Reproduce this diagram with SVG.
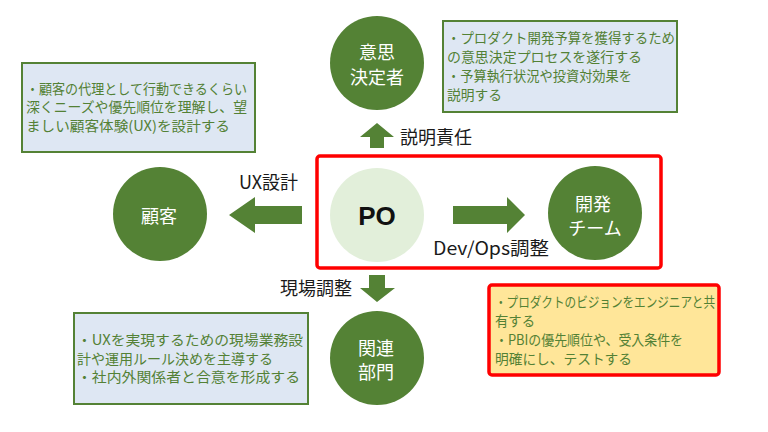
<svg xmlns="http://www.w3.org/2000/svg" width="768" height="432" viewBox="0 0 768 432">
<style>
.node{fill:#548235;}
.nt{fill:#ffffff;font-family:"Noto Sans CJK JP",sans-serif;font-size:18px;text-anchor:middle;}
.note{fill:#dee7f3;stroke:#548235;stroke-width:2;}
.hl{fill:#ffe699;stroke:#ff0000;stroke-width:3.5;}
.bt{fill:#538135;font-family:"Noto Sans CJK JP",sans-serif;font-size:14px;}
.arrow{fill:#548235;}
.lbl{fill:#1a1a1a;font-family:"Noto Sans CJK JP",sans-serif;font-size:18px;}
</style>
<rect width="768" height="432" fill="#ffffff"/>

<g id="po-group">
<rect x="317" y="156" width="344" height="112" rx="3" fill="none" stroke="#ff0000" stroke-width="3.5"/>
</g>

<g id="connectors">
<polygon class="arrow" points="377,123 394,137 384,137 384,148 370,148 370,137 360,137"/>
<polygon class="arrow" points="229,215 255,197 255,206 302,206 302,224 255,224 255,233"/>
<polygon class="arrow" points="525,215 507,197 507,206 453,206 453,224 507,224 507,233"/>
<polygon class="arrow" points="377,302 395,288 385,288 385,275 369,275 369,288 360,288"/>
<text class="lbl" x="400" y="144">説明責任</text>
<text class="lbl" x="298" y="189" text-anchor="end">UX設計</text>
<text class="lbl" x="433" y="255" font-size="19" textLength="116" lengthAdjust="spacingAndGlyphs">Dev/Ops調整</text>
<text class="lbl" x="352" y="295" text-anchor="end">現場調整</text>
</g>

<g id="node-po">
<circle cx="377" cy="215" r="47" fill="#e2efda"/>
<text x="377" y="225" fill="#111111" font-family="Liberation Sans, Arial, sans-serif" font-size="26" font-weight="bold" text-anchor="middle">PO</text>
</g>

<g id="node-decision">
<circle class="node" cx="377" cy="63" r="47"/>
<text class="nt" x="377" y="59">意思</text>
<text class="nt" x="377" y="84">決定者</text>
</g>

<g id="node-customer">
<circle class="node" cx="160" cy="214" r="47"/>
<text class="nt" x="159" y="223">顧客</text>
</g>

<g id="node-dev">
<circle class="node" cx="595" cy="213" r="47"/>
<text class="nt" x="593" y="211">開発</text>
<text class="nt" x="595" y="235">チーム</text>
</g>

<g id="node-related">
<circle class="node" cx="377" cy="358" r="47"/>
<text class="nt" x="376" y="355">関連</text>
<text class="nt" x="376" y="379">部門</text>
</g>

<g id="note-customer">
<rect class="note" x="22" y="63" width="233" height="89"/>
<text class="bt" x="26" y="93.5" textLength="221" lengthAdjust="spacingAndGlyphs">・顧客の代理として行動できるくらい</text>
<text class="bt" x="26" y="112" textLength="221" lengthAdjust="spacingAndGlyphs">深くニーズや優先順位を理解し、望</text>
<text class="bt" x="26" y="130.5" textLength="204" lengthAdjust="spacingAndGlyphs">ましい顧客体験(UX)を設計する</text>
</g>

<g id="note-decision">
<rect class="note" x="443" y="21" width="234" height="91"/>
<text class="bt" x="447" y="43" textLength="228" lengthAdjust="spacingAndGlyphs">・プロダクト開発予算を獲得するため</text>
<text class="bt" x="447" y="62" textLength="195" lengthAdjust="spacingAndGlyphs">の意思決定プロセスを遂行する</text>
<text class="bt" x="447" y="81" textLength="185" lengthAdjust="spacingAndGlyphs">・予算執行状況や投資対効果を</text>
<text class="bt" x="447" y="100" textLength="55" lengthAdjust="spacingAndGlyphs">説明する</text>
</g>

<g id="note-dev">
<rect class="hl" x="489" y="285" width="230" height="90" rx="3"/>
<text class="bt" x="495" y="306.5" textLength="220" lengthAdjust="spacingAndGlyphs">・プロダクトのビジョンをエンジニアと共</text>
<text class="bt" x="495" y="325.5" textLength="40" lengthAdjust="spacingAndGlyphs">有する</text>
<text class="bt" x="495" y="344.5" textLength="188" lengthAdjust="spacingAndGlyphs">・PBIの優先順位や、受入条件を</text>
<text class="bt" x="495" y="363.5" textLength="137" lengthAdjust="spacingAndGlyphs">明確にし、テストする</text>
</g>

<g id="note-related">
<rect class="note" x="74" y="313" width="234" height="91"/>
<text class="bt" x="77" y="345" textLength="226" lengthAdjust="spacingAndGlyphs">・UXを実現するための現場業務設</text>
<text class="bt" x="77" y="363.5" textLength="196" lengthAdjust="spacingAndGlyphs">計や運用ルール決めを主導する</text>
<text class="bt" x="77" y="382" textLength="223" lengthAdjust="spacingAndGlyphs">・社内外関係者と合意を形成する</text>
</g>
</svg>
